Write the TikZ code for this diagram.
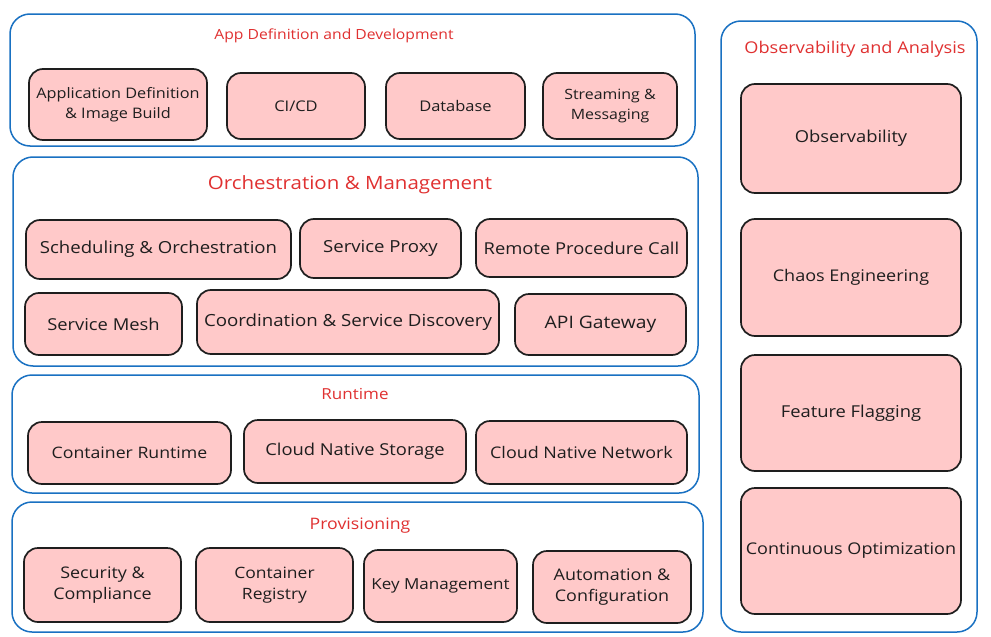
\documentclass[tikz,border=0pt]{standalone}
\usepackage{fontspec}
\setmainfont{Open Sans}[FakeStretch=1.12]
\definecolor{cblue}{HTML}{1971C2}
\definecolor{cred}{HTML}{E03131}
\definecolor{cpink}{HTML}{FFC9C9}
\definecolor{cdark}{HTML}{1E1E1E}
\tikzset{
  groupbox/.style={draw=cblue,line width=1.5pt,rounded corners=20pt,fill=white,inner sep=0pt},
  pinkbox/.style={draw=cdark,line width=1.7pt,rounded corners=14pt,fill=cpink,inner sep=0pt,align=center,text=cdark,font=\fontsize{16.4}{20}\selectfont},
  grouptitle/.style={text=cred,inner sep=0pt,font=\fontsize{14}{18}\selectfont},
}
\newcommand\gbox[5]{\node[groupbox,minimum width={(#4-#2)*1pt},minimum height={(#5-#3)*1pt}] (#1) at ({(#2+#4)/2},{(#3+#5)/2}) {};}
\newcommand\pbox[7][]{\node[pinkbox,#1,minimum width={(#5-#3)*1pt},minimum height={(#6-#4)*1pt}] (#2) at ({(#3+#5)/2},{(#4+#6)/2}) {#7};}
\begin{document}
\begin{tikzpicture}[x=1pt,y=-1pt]
\useasboundingbox[fill=white] (0,0) rectangle (991,637);
% groups
\gbox{gapp}{10}{14}{695}{146}
\gbox{gorch}{13}{157}{698}{366}
\gbox{grun}{12}{375}{699}{493}
\gbox{gprov}{12}{502}{703}{632}
\gbox{gobs}{721}{21}{977}{632}
% titles
\node[grouptitle] (tapp) at (334,36) {App Definition and Development};
\node[grouptitle,font=\fontsize{18.3}{22}\selectfont] (torch) at (350,185) {Orchestration \& Management};
\node[grouptitle,font=\fontsize{15.2}{18}\selectfont] (trun) at (355,394) {Runtime};
\node[grouptitle,font=\fontsize{15.8}{18}\selectfont] (tprov) at (360,526) {Provisioning};
\node[grouptitle,font=\fontsize{16.2}{18}\selectfont] (tobs) at (855,49) {Observability and Analysis};
% app definition
\pbox[font=\fontsize{14.5}{20}\selectfont]{adib}{29}{69}{207}{140}{Application Definition\\\& Image Build}
\pbox[font=\fontsize{14.7}{20}\selectfont]{cicd}{227}{73}{365}{139}{CI/CD}
\pbox[font=\fontsize{14.7}{20}\selectfont]{db}{386}{73}{525}{139}{Database}
\pbox[font=\fontsize{14.2}{20}\selectfont]{stream}{543}{73}{677}{139}{Streaming \&\\Messaging}
% orchestration
\pbox[font=\fontsize{16.6}{20}\selectfont]{sched}{26}{220}{291}{279}{Scheduling \& Orchestration}
\pbox[font=\fontsize{16.6}{20}\selectfont]{proxy}{300}{219}{461}{278}{Service Proxy}
\pbox{rpc}{476}{219}{687}{277}{Remote Procedure Call}
\pbox{mesh}{25}{293}{182}{355}{Service Mesh}
\pbox[font=\fontsize{16.7}{20}\selectfont]{coord}{197}{290}{499}{354}{Coordination \& Service Discovery}
\pbox[font=\fontsize{17.2}{20}\selectfont]{api}{515}{294}{686}{355}{API Gateway}
% runtime
\pbox[font=\fontsize{15.8}{20}\selectfont]{crt}{28}{422}{231}{484}{Container Runtime}
\pbox{cns}{244}{420}{466}{483}{Cloud Native Storage}
\pbox[font=\fontsize{16}{20}\selectfont]{cnn}{476}{421}{687}{484}{Cloud Native Network}
% provisioning
\pbox[font=\fontsize{16}{21}\selectfont]{sec}{24}{548}{181}{622}{Security \&\\Compliance}
\pbox[font=\fontsize{15.6}{21}\selectfont]{reg}{196}{548}{353}{622}{Container\\Registry}
\pbox[font=\fontsize{15.2}{21}\selectfont]{key}{364}{550}{517}{622}{Key Management}
\pbox[font=\fontsize{16}{21}\selectfont]{auto}{533}{551}{691}{623}{Automation \&\\Configuration}
% observability
\pbox{obs}{741}{84}{961}{193}{Observability}
\pbox[font=\fontsize{16.1}{20}\selectfont]{chaos}{741}{219}{961}{336}{Chaos Engineering}
\pbox{flag}{741}{355}{961}{471}{Feature Flagging}
\pbox[font=\fontsize{16.1}{20}\selectfont]{opt}{741}{488}{961}{614}{Continuous Optimization}
\end{tikzpicture}
\end{document}
